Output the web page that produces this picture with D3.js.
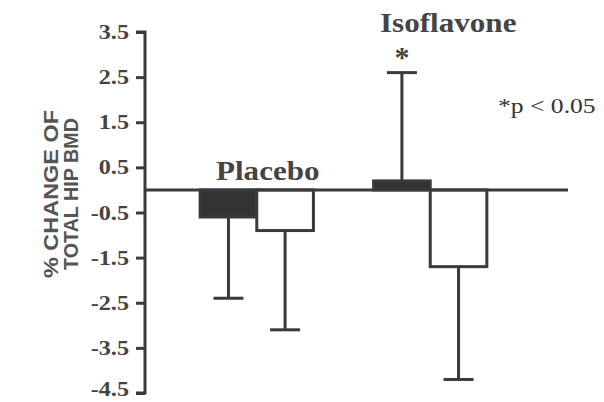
<!DOCTYPE html>
<html>
<head>
<meta charset="utf-8">
<script src="https://cdn.jsdelivr.net/npm/d3@7"></script>
<style>
  html, body { margin: 0; padding: 0; background: #fff; }
  svg { display: block; }
</style>
</head>
<body>
<svg id="chart" width="604" height="402"></svg>
<script>
// ---- data ----
const groups = ["Placebo", "Isoflavone"];
const subgroups = ["filled", "open"];
const meanValues = [[-0.6, -0.9], [0.2, -1.7]];
const errorValues = [[1.8, 2.2], [2.4, 2.5]];   // one-sided SD, away from zero
const tickValues = [3.5, 2.5, 1.5, 0.5, -0.5, -1.5, -2.5, -3.5, -4.5];
const yLabelLines = ["% CHANGE OF", "TOTAL HIP BMD"];
const sigNote = "*p < 0.05";
const sigMark = "*";

// ---- layout ----
const svg = d3.select("#chart");
const ink = "#3a3a3a";
const axisX = 145;
const lineEnd = 568;
const serif = "'Liberation Serif', 'Times New Roman', Times, serif";

const y = d3.scaleLinear().domain([-4.5, 3.5]).range([393, 32]);
const x0 = d3.scaleBand().domain(groups).range([axisX, 542])
  .paddingInner(0.347).paddingOuter(0.318);
const x1 = d3.scaleBand().domain(subgroups).range([0, x0.bandwidth()]);

// y axis
const axis = d3.axisLeft(y).tickValues(tickValues).tickSize(9).tickPadding(7)
  .tickFormat(d => d.toFixed(1));
const gAxis = svg.append("g").attr("transform", `translate(${axisX},0)`).call(axis);
gAxis.select(".domain").attr("stroke", ink).attr("stroke-width", 3)
  .attr("d", `M-9,${y(3.5)}H0V${y(-4.5)}H-9`);
gAxis.selectAll(".tick line").attr("stroke", ink).attr("stroke-width", 3);
gAxis.selectAll(".tick text")
  .attr("fill", "#444")
  .style("font-family", serif)
  .style("font-weight", "bold")
  .style("font-size", "22px")
  .attr("dy", d => d === -4.5 ? "0.12em" : "0.3em")
  .attr("transform", "scale(1.1,1)")
  .attr("x", -16 / 1.1);

// y label
const yLabelLen = [168, 152];
yLabelLines.forEach((t, i) => {
  svg.append("text")
    .attr("transform", `translate(${i === 0 ? 58 : 78},194) rotate(-90)`)
    .attr("text-anchor", "middle")
    .attr("fill", "#555")
    .attr("textLength", yLabelLen[i])
    .attr("lengthAdjust", "spacingAndGlyphs")
    .style("font-family", "'Liberation Sans', Arial, sans-serif")
    .style("font-weight", "bold")
    .style("font-size", "21px")
    .text(t);
});

// bars
const bars = [];
groups.forEach((g, gi) => subgroups.forEach((s, si) => {
  bars.push({ g, s, v: meanValues[gi][si], e: errorValues[gi][si] });
}));

svg.append("g").selectAll("rect").data(bars).join("rect")
  .attr("x", d => x0(d.g) + x1(d.s))
  .attr("width", x1.bandwidth())
  .attr("y", d => Math.min(y(d.v), y(0)))
  .attr("height", d => Math.abs(y(d.v) - y(0)))
  .attr("fill", d => d.s === "filled" ? "#333" : "#fff")
  .attr("stroke", ink).attr("stroke-width", 3);

// error bars
const eb = svg.append("g").attr("stroke", ink).attr("stroke-width", 3);
bars.forEach(d => {
  const cx = x0(d.g) + x1(d.s) + x1.bandwidth() / 2;
  const end = d.v >= 0 ? d.v + d.e : d.v - d.e;
  eb.append("line").attr("x1", cx).attr("x2", cx).attr("y1", y(d.v)).attr("y2", y(end));
  eb.append("line").attr("x1", cx - 15).attr("x2", cx + 15).attr("y1", y(end)).attr("y2", y(end));
});

// zero line
svg.append("line").attr("x1", axisX).attr("x2", lineEnd)
  .attr("y1", y(0)).attr("y2", y(0)).attr("stroke", ink).attr("stroke-width", 3);

// group labels
const labelPos = [
  { x: x0("Placebo") + x0.bandwidth() / 2 + 11, y: y(0) - 10 },
  { x: x0("Isoflavone") + x0.bandwidth() / 2 + 18, y: 32 }
];
groups.forEach((g, i) => {
  svg.append("text")
    .attr("transform", `translate(${labelPos[i].x},${labelPos[i].y}) scale(1.11,1)`)
    .attr("text-anchor", "middle")
    .attr("fill", "#444")
    .style("font-family", serif).style("font-weight", "bold").style("font-size", "28px")
    .text(g);
});

// significance mark above isoflavone filled bar
svg.append("text")
  .attr("x", x0("Isoflavone") + x1("filled") + x1.bandwidth() / 2)
  .attr("y", 67)
  .attr("text-anchor", "middle")
  .attr("fill", "#444")
  .style("font-family", serif).style("font-weight", "bold").style("font-size", "30px")
  .text(sigMark);

// note
svg.append("text")
  .attr("transform", "translate(498,113) scale(1.22,1)")
  .attr("fill", "#333")
  .style("font-family", serif).style("font-size", "21px")
  .text(sigNote);
</script>
</body>
</html>
